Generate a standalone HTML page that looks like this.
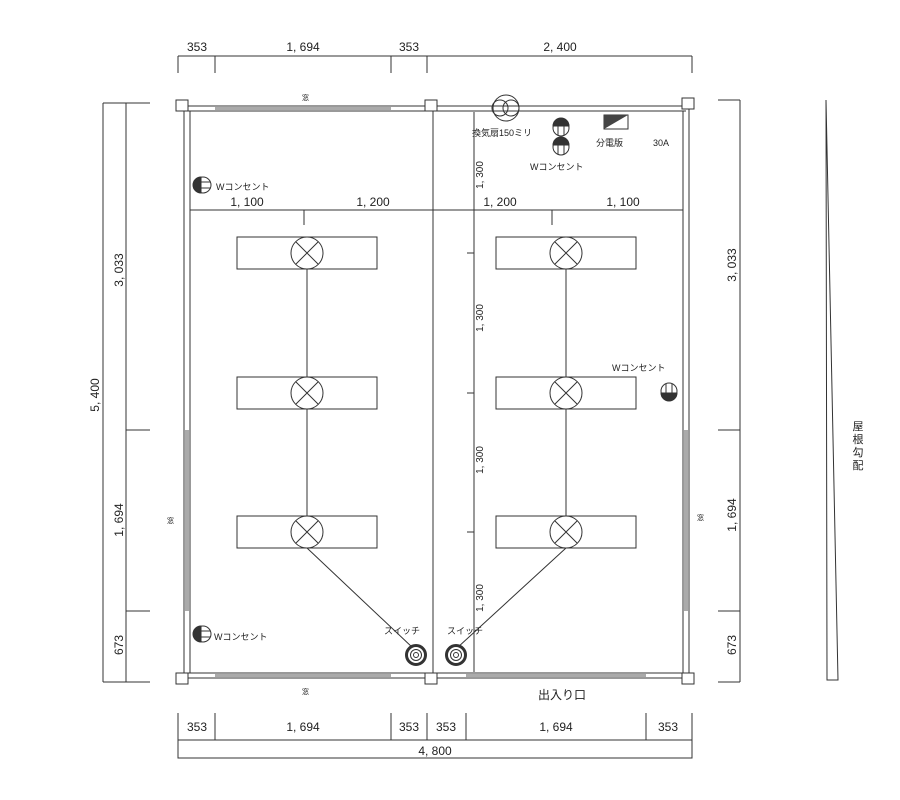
<!DOCTYPE html>
<html><head><meta charset="utf-8"><style>
body{margin:0;background:#fff}
svg{display:block}
text{font-family:"Liberation Sans","Noto Sans CJK JP",sans-serif;fill:#222}
</style></head><body>
<svg width="900" height="800" viewBox="0 0 900 800" xmlns="http://www.w3.org/2000/svg">
<g stroke="#333" stroke-width="1" fill="none">
<path d="M178 56H692M178 56V73M215 56V73M391 56V73M427 56V73M692 56V73"/>
<path d="M103 103V682M126 103V682M103 103H150M103 682H150M126 430H150M126 611H150"/>
<path d="M740 100V682M718 100H740M718 430H740M718 611H740M718 682H740"/>
<path d="M826 100L838 680H827L826 100"/>
<path d="M178 713V758H692V713M178 740H692M215 713V740M391 713V740M427 713V740M466 713V740M646 713V740"/>
<path d="M184 106H686M184 111H686M184 673H686M184 678H686M184 106V678M190 111V673M683 111V673M689 106V678"/>
<path d="M433 111V673"/>
<path d="M190 210H683M304 210V225M552 210V225"/>
<path d="M474 112V672M467 253H474M467 393H474M467 532H474"/>
</g>
<g fill="#aaa">
<rect x="215" y="107" width="176" height="3"/>
<rect x="215" y="674" width="176" height="3"/>
<rect x="466" y="674" width="180" height="3"/>
<rect x="185" y="430" width="4" height="181"/>
<rect x="684" y="430" width="4" height="181"/>
</g>
<g fill="#fff" stroke="#333">
<rect x="176" y="100" width="12" height="11"/><rect x="425" y="100" width="12" height="11"/><rect x="682" y="98" width="12" height="11"/>
<rect x="176" y="673" width="12" height="11"/><rect x="425" y="673" width="12" height="11"/><rect x="682" y="673" width="12" height="11"/>
</g>
<g stroke="#333" fill="#fff">
<rect x="237" y="237" width="140" height="32"/><rect x="237" y="377" width="140" height="32"/><rect x="237" y="516" width="140" height="32"/>
<rect x="496" y="237" width="140" height="32"/><rect x="496" y="377" width="140" height="32"/><rect x="496" y="516" width="140" height="32"/>
</g>
<g stroke="#333" fill="none">
<path d="M307 269V377M307 409V516M566 269V377M566 409V516"/>
<path d="M307 548L413 648M566 548L457 648"/>
<g id="lx"><circle cx="307" cy="253" r="16" fill="#fff"/><path d="M296 242L318 264M318 242L296 264"/></g>
<use href="#lx" y="140"/><use href="#lx" y="279"/>
<use href="#lx" x="259"/><use href="#lx" x="259" y="140"/><use href="#lx" x="259" y="279"/>
<circle cx="500" cy="108" r="8"/><circle cx="511" cy="108" r="8"/><circle cx="506" cy="108" r="13"/>
</g>
<g stroke="#333" fill="#fff">
<circle cx="416" cy="655" r="9.5" stroke-width="3"/><circle cx="416" cy="655" r="5.5"/><circle cx="416" cy="655" r="2.5"/>
<circle cx="456" cy="655" r="9.5" stroke-width="3"/><circle cx="456" cy="655" r="5.5"/><circle cx="456" cy="655" r="2.5"/>
</g>
<g stroke="#333" fill="#fff">
<g id="ov"><circle cx="561" cy="128" r="8"/><path d="M553 126A8 8 0 0 1 569 126Z" fill="#333"/><path d="M558 126V135M564 126V135"/></g>
<use href="#ov" y="19"/>
<g id="oh"><circle cx="203" cy="185" r="8"/><path d="M201 177A8 8 0 0 0 201 193Z" fill="#333"/><path d="M201 182H210M201 188H210"/></g>
<use href="#oh" y="449"/>
<g><circle cx="669" cy="391" r="8"/><path d="M661 393A8 8 0 0 0 677 393Z" fill="#333"/><path d="M666 384V393M672 384V393"/></g>
</g>
<rect x="604" y="115" width="24" height="14" fill="#fff" stroke="#333"/>
<path d="M604 115H628L604 129Z" fill="#444"/>
<g font-size="12" text-anchor="middle">
<text x="197" y="51">353</text><text x="303" y="51">1, 694</text><text x="409" y="51">353</text><text x="560" y="51">2, 400</text>
<text x="247" y="206">1, 100</text><text x="373" y="206">1, 200</text><text x="500" y="206">1, 200</text><text x="623" y="206">1, 100</text>
<text x="197" y="731">353</text><text x="303" y="731">1, 694</text><text x="409" y="731">353</text><text x="446" y="731">353</text><text x="556" y="731">1, 694</text><text x="668" y="731">353</text>
<text x="435" y="755">4, 800</text>
<text transform="translate(99,395) rotate(-90)">5, 400</text>
<text transform="translate(123,270) rotate(-90)">3, 033</text>
<text transform="translate(123,520) rotate(-90)">1, 694</text>
<text transform="translate(123,645) rotate(-90)">673</text>
<text transform="translate(736,265) rotate(-90)">3, 033</text>
<text transform="translate(736,515) rotate(-90)">1, 694</text>
<text transform="translate(736,645) rotate(-90)">673</text>
<text transform="translate(483,175) rotate(-90)" font-size="10">1, 300</text>
<text transform="translate(483,318) rotate(-90)" font-size="10">1, 300</text>
<text transform="translate(483,460) rotate(-90)" font-size="10">1, 300</text>
<text transform="translate(483,598) rotate(-90)" font-size="10">1, 300</text>
</g>
<g font-size="9">
<text x="472" y="136">換気扇150ミリ</text>
<text x="530" y="170">Wコンセント</text>
<text x="216" y="190">Wコンセント</text>
<text x="214" y="640">Wコンセント</text>
<text x="612" y="371">Wコンセント</text>
<text x="596" y="146">分電版</text><text x="653" y="146">30A</text>
<text x="384" y="634">スイッチ</text><text x="447" y="634">スイッチ</text>
<text x="302" y="100" font-size="7">窓</text><text x="302" y="694" font-size="7">窓</text>
<text x="167" y="523" font-size="7">窓</text><text x="697" y="520" font-size="7">窓</text>
</g>
<text x="538" y="699" font-size="12">出入り口</text>
<g font-size="11" text-anchor="middle">
<text x="858" y="430">屋</text><text x="858" y="443">根</text><text x="858" y="456">勾</text><text x="858" y="469">配</text>
</g>
</svg>
</body></html>
